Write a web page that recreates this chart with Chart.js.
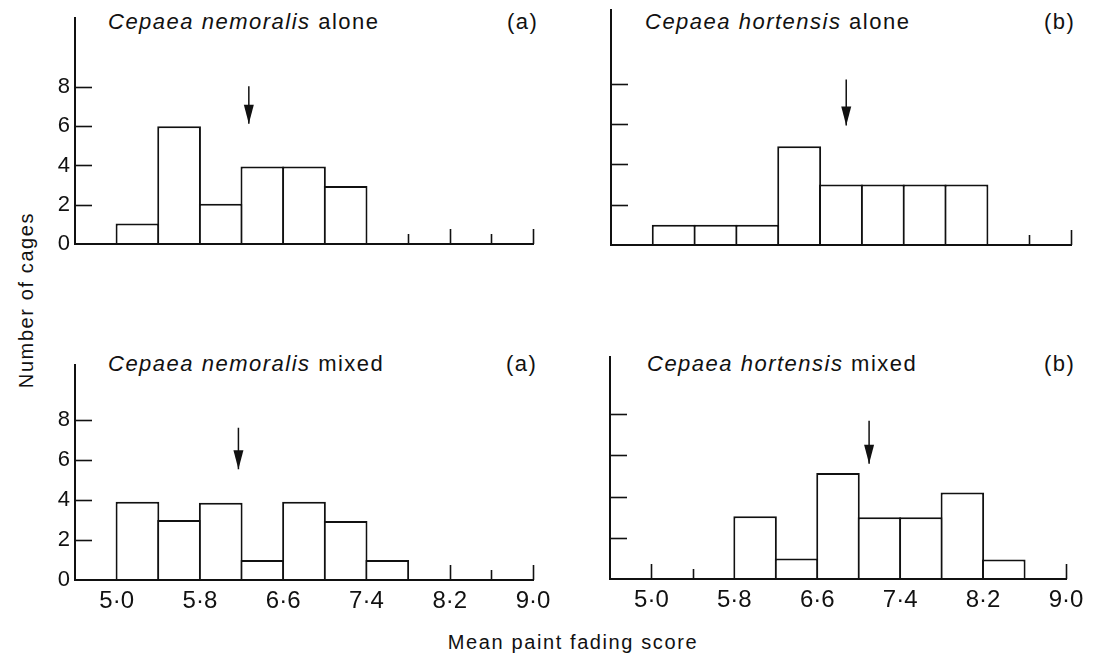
<!DOCTYPE html>
<html>
<head>
<meta charset="utf-8">
<script src="https://cdn.jsdelivr.net/npm/chart.js@4/dist/chart.umd.min.js"></script>
<style>
  body { margin: 0; background: #fff; }
  #page { position: relative; width: 1096px; height: 654px; overflow: hidden; background: #fff;
          font-family: "Liberation Sans", Arial, sans-serif; color: #111; }
  .panel { position: absolute; }
  .t { position: absolute; font-size: 22px; line-height: 1; letter-spacing: 1.5px; white-space: nowrap; }
  #ytitle { position: absolute; left: 26px; top: 300px; font-size: 20px; line-height: 1; letter-spacing: 1.6px;
            white-space: nowrap; transform: translate(-50%, -50%) rotate(-90deg); }
  #xtitle { position: absolute; left: 573px; top: 632px; font-size: 20px; line-height: 1; letter-spacing: 1.6px;
            white-space: nowrap; transform: translateX(-50%); }
</style>
</head>
<body>
<div id="page">
  <div class="t" style="left:108px;top:11px"><i>Cepaea nemoralis</i> alone</div>
  <div class="t" style="left:507px;top:11px">(a)</div>
  <div class="t" style="left:645px;top:11px"><i>Cepaea hortensis</i> alone</div>
  <div class="t" style="left:1044px;top:11px">(b)</div>
  <div class="t" style="left:108px;top:353px"><i>Cepaea nemoralis</i> mixed</div>
  <div class="t" style="left:506px;top:353px">(a)</div>
  <div class="t" style="left:647px;top:353px"><i>Cepaea hortensis</i> mixed</div>
  <div class="t" style="left:1044px;top:353px">(b)</div>
  <div id="ytitle">Number of cages</div>
  <div id="xtitle">Mean paint fading score</div>
</div>
<script>
// bin edges of the histograms (score classes of width 0.4)
const binEdges = [4.6, 5.0, 5.4, 5.8, 6.2, 6.6, 7.0, 7.4, 7.8, 8.2, 8.6, 9.0];

// number of cages in each class
const nemoralisAlone = [0, 1.05, 6, 2.05, 3.95, 3.95, 2.95, 0, 0, 0, 0];
const hortensisAlone = [0, 1, 1, 1, 4.9, 3, 3, 3, 3, 0, 0];
const nemoralisMixed = [0, 3.9, 3, 3.85, 1, 3.9, 2.95, 1, 0, 0, 0];
const hortensisMixed = [0, 0, 0, 3.05, 1, 5.15, 3, 3, 4.2, 0.95, 0];

// mean score marked by the arrow, and the arrow's top / tip heights
const meanScores = [6.27, 6.85, 6.17, 7.1];
const arrowTops = [8.04, 8.2, 7.6, 7.68];
const arrowTips = [6.13, 5.93, 5.53, 5.6];

const xTickValues = [5.0, 5.8, 6.6, 7.4, 8.2, 9.0];
const xTickLabels = ['5·0', '5·8', '6·6', '7·4', '8·2', '9·0'];
const yTickValues = [0, 2, 4, 6, 8];

const binCenters = binEdges.slice(0, -1).map((e, i) => (e + binEdges[i + 1]) / 2);

const INK = '#111';
const FONT = '"Liberation Sans", Arial, sans-serif';

// plot area of every panel in page pixels
const panels = [
  { counts: nemoralisAlone, left: 75, right: 533, top: 10, bottom: 244, yMax: 11.5, xLabels: false, yLabels: true },
  { counts: hortensisAlone, left: 611, right: 1071, top: 10, bottom: 245, yMax: 11.65, xLabels: false, yLabels: false },
  { counts: nemoralisMixed, left: 75, right: 533, top: 357, bottom: 580, yMax: 10.72, xLabels: true, yLabels: true },
  { counts: hortensisMixed, left: 610, right: 1066, top: 357, bottom: 579, yMax: 10.78, xLabels: true, yLabels: false }
];

// inner tick marks and arrow heads
const marks = {
  id: 'marks',
  afterDatasetsDraw(chart) {
    const { ctx } = chart;
    const x = chart.scales.x, y = chart.scales.y;
    const counts = chart.data.datasets[0].counts;
    ctx.save();
    ctx.strokeStyle = INK;
    ctx.fillStyle = INK;
    ctx.lineWidth = 1.6;
    yTickValues.forEach(v => {
      if (v === 0) return;
      const py = Math.round(y.getPixelForValue(v)) + 0.5;
      ctx.beginPath();
      ctx.moveTo(x.left, py);
      ctx.lineTo(x.left + 17, py);
      ctx.stroke();
    });
    const base = y.getPixelForValue(0);
    binEdges.forEach((e, i) => {
      if (i === 0) return;
      const before = counts[i - 1] || 0, after = counts[i] || 0;
      if (before > 0 || after > 0) return;
      const len = xTickValues.includes(e) ? 15 : 10;
      const px = Math.round(x.getPixelForValue(e)) + 0.5;
      ctx.beginPath();
      ctx.moveTo(px, base);
      ctx.lineTo(px, base - len);
      ctx.stroke();
    });
    const tip = chart.getDatasetMeta(1).data[1];
    ctx.beginPath();
    ctx.moveTo(tip.x, tip.y);
    ctx.lineTo(tip.x - 5, tip.y - 19);
    ctx.lineTo(tip.x + 5, tip.y - 19);
    ctx.closePath();
    ctx.fill();
    ctx.restore();
  }
};

panels.forEach((p, k) => {
  const wrap = document.createElement('div');
  wrap.className = 'panel';
  const w = p.right - p.left + 75 + 30;
  const h = p.bottom - p.top + 10 + 45;
  wrap.style.left = (p.left - 75) + 'px';
  wrap.style.top = (p.top - 10) + 'px';
  const canvas = document.createElement('canvas');
  canvas.width = w;
  canvas.height = h;
  wrap.appendChild(canvas);
  document.getElementById('page').appendChild(wrap);

  new Chart(canvas, {
    type: 'bar',
    data: {
      datasets: [
        {
          type: 'bar',
          counts: p.counts,
          data: binCenters.map((c, i) => ({ x: c, y: p.counts[i] })),
          backgroundColor: '#fff',
          borderColor: INK,
          borderWidth: 2,
          barPercentage: 1.05,
          categoryPercentage: 1,
          grouped: false
        },
        {
          type: 'line',
          data: [{ x: meanScores[k], y: arrowTops[k] }, { x: meanScores[k], y: arrowTips[k] }],
          borderColor: INK,
          borderWidth: 1.5,
          pointRadius: 0,
          fill: false
        }
      ]
    },
    options: {
      responsive: false,
      animation: false,
      events: [],
      devicePixelRatio: 1,
      layout: { padding: { top: 10, right: 30, left: 0, bottom: 0 } },
      plugins: { legend: { display: false }, tooltip: { enabled: false } },
      scales: {
        x: {
          type: 'linear',
          min: 4.6,
          max: 9.0,
          offset: false,
          grid: { display: false, drawTicks: false },
          border: { color: INK, width: 2, z: 1 },
          afterBuildTicks: s => { s.ticks = xTickValues.map(v => ({ value: v })); },
          afterFit: s => { s.height = 45; },
          ticks: {
            display: p.xLabels,
            padding: 7,
            maxRotation: 0,
            autoSkip: false,
            color: INK,
            font: { family: FONT, size: 24 },
            callback: (v, i) => xTickLabels[i]
          }
        },
        y: {
          type: 'linear',
          min: 0,
          max: p.yMax,
          grid: { display: false, drawTicks: false },
          border: { color: INK, width: 2, z: 1 },
          afterBuildTicks: s => { s.ticks = yTickValues.map(v => ({ value: v })); },
          afterFit: s => { s.width = 75; },
          ticks: {
            display: p.yLabels,
            padding: 5,
            color: INK,
            font: { family: FONT, size: 22 }
          }
        }
      }
    },
    plugins: [marks]
  });
});
</script>
</body>
</html>
